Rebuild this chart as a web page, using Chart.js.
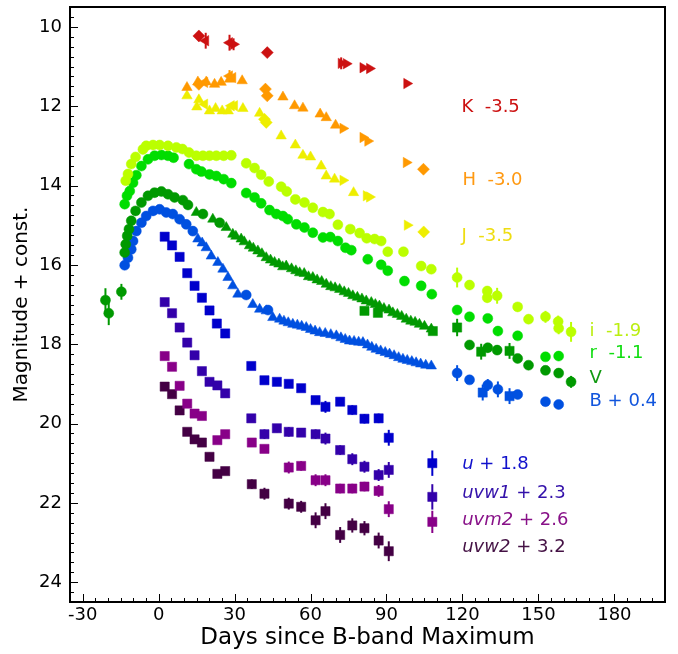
<!DOCTYPE html>
<html>
<head>
<meta charset="utf-8">
<script src="https://cdn.jsdelivr.net/npm/chart.js@4/dist/chart.umd.min.js"></script>
<style>
  html, body { margin: 0; padding: 0; background: #fff; }
  #wrap { width: 678px; height: 654px; }
</style>
</head>
<body>
<div id="wrap"><canvas id="lc"></canvas></div>
<script>
// light curve points: [day since B max, magnitude (+const), error]
const kDiamond = [[15.9, 10.23], [42.9, 10.65]];
const kLeft = [[18.6, 10.35, 0.2], [28.0, 10.40, 0.2]];
const kRight = [[29.6, 10.44, 0.15], [72.1, 10.92, 0.15], [74.1, 10.93], [80.7, 11.03], [83.3, 11.05], [98.0, 11.43]];

const hTri = [[11.2, 11.53], [15.5, 11.39], [18.8, 11.39], [22.1, 11.45], [24.7, 11.40], [28.0, 11.32], [33.0, 11.36],
  [49.1, 11.77], [53.7, 11.99], [57.0, 12.05], [63.8, 12.20], [66.2, 12.29], [69.9, 12.48]];
const hDiamond = [[15.9, 11.45], [42.2, 11.57], [42.9, 11.74], [104.6, 13.59]];
const hLeft = [[18.2, 11.40], [28.0, 11.24, 0.15], [29.3, 11.28]];
const hRight = [[72.8, 12.56], [80.7, 12.79], [82.6, 12.88], [97.8, 13.42]];

const jTri = [[11.2, 11.74], [15.1, 12.02], [15.9, 11.84], [20.1, 12.12], [22.5, 12.06], [25.1, 12.12], [27.5, 12.12],
  [33.3, 12.06], [39.9, 12.18], [48.4, 12.75], [54.0, 12.98], [57.0, 13.24], [60.0, 13.28], [64.2, 13.51],
  [66.2, 13.76], [69.5, 13.84], [77.0, 14.18]];
const jLeft = [[18.2, 11.95], [28.7, 11.99], [30.0, 11.99]];
const jDiamond = [[41.8, 12.33], [42.5, 12.41], [104.7, 15.17]];
const jRight = [[72.8, 13.87], [82.0, 14.26], [83.3, 14.29], [98.2, 15.00]];

const iCirc = [[-13.0, 13.88], [-12.1, 13.71], [-10.8, 13.46], [-9.1, 13.28], [-6.2, 13.09], [-4.9, 13.00], [-2.2, 12.98],
  [0.4, 12.98], [3.7, 13.00], [7.0, 13.04], [9.4, 13.08], [12.0, 13.17], [14.9, 13.25], [17.5, 13.25], [20.1, 13.25],
  [22.8, 13.25], [25.7, 13.25], [28.7, 13.24], [34.6, 13.44], [37.9, 13.56], [40.5, 13.73], [43.5, 13.90],
  [48.4, 14.03], [50.6, 14.15], [54.0, 14.35], [57.6, 14.43], [60.9, 14.56], [64.9, 14.67], [67.5, 14.72],
  [70.8, 14.99], [75.7, 15.10], [79.4, 15.20], [82.2, 15.33], [85.3, 15.35], [87.9, 15.40], [90.5, 15.67],
  [96.7, 15.67], [103.7, 16.03], [107.7, 16.11], [117.9, 16.32, 0.25], [122.8, 16.51, 0.12], [129.8, 16.66, 0.12],
  [129.8, 16.83, 0.12], [133.7, 16.78, 0.2], [141.8, 17.06], [146.1, 17.37, 0.12], [152.8, 17.31, 0.15],
  [157.8, 17.43, 0.15], [158.0, 17.60, 0.15], [162.9, 17.69, 0.25]];

const rCirc = [[-13.4, 14.47], [-12.5, 14.26], [-11.4, 14.14], [-10.1, 13.93], [-8.8, 13.74], [-6.8, 13.51], [-4.2, 13.34],
  [-1.6, 13.25], [1.1, 13.23], [3.7, 13.25], [5.9, 13.30], [12.0, 13.46], [14.9, 13.59], [16.9, 13.65], [20.1, 13.72],
  [22.8, 13.76], [25.7, 13.84], [28.7, 13.94], [34.6, 14.19], [37.9, 14.30], [40.5, 14.45], [43.8, 14.62],
  [46.5, 14.72], [49.1, 14.77], [51.0, 14.85], [54.4, 14.98], [57.6, 15.06], [60.9, 15.19], [64.9, 15.31],
  [67.8, 15.30], [70.8, 15.40], [73.8, 15.57], [76.1, 15.63], [82.6, 15.86], [87.9, 16.00], [90.5, 16.15],
  [97.1, 16.41], [103.7, 16.53], [107.9, 16.74], [117.9, 17.14], [122.8, 17.31], [130.0, 17.35],
  [134.0, 17.67, 0.12], [141.8, 17.79], [152.8, 18.32], [158.0, 18.30, 0.12]];

const vCirc = [[-21.0, 16.89, 0.3], [-19.7, 17.22, 0.3], [-14.7, 16.68, 0.2], [-13.4, 15.69], [-13.0, 15.48],
  [-12.4, 15.27], [-11.7, 15.10], [-10.8, 14.89], [-9.1, 14.64], [-6.8, 14.43], [-4.2, 14.26], [-1.6, 14.18],
  [1.1, 14.15], [3.7, 14.22], [6.3, 14.30], [9.6, 14.37], [11.6, 14.49], [17.5, 14.72], [24.1, 14.94],
  [122.8, 18.02], [130.0, 18.09, 0.12], [133.7, 18.15, 0.12], [141.8, 18.36], [146.1, 18.53], [152.8, 18.66],
  [158.0, 18.73], [162.9, 18.95, 0.15]];
const vTri = [[14.9, 14.68], [21.4, 14.85], [26.7, 15.06], [29.3, 15.23], [30.5, 15.28], [32.6, 15.35], [33.8, 15.42],
  [35.9, 15.52], [37.4, 15.58], [39.2, 15.65], [40.8, 15.72], [42.5, 15.82], [44.2, 15.88], [45.8, 15.94],
  [47.5, 15.98], [49.0, 16.05], [50.4, 16.03], [52.5, 16.10], [54.2, 16.15], [55.7, 16.20], [57.5, 16.22],
  [59.2, 16.30], [60.9, 16.32], [62.6, 16.38], [64.4, 16.42], [66.2, 16.49], [68.0, 16.55], [69.7, 16.58],
  [71.5, 16.62], [73.3, 16.68], [75.0, 16.72], [76.7, 16.78], [78.5, 16.82], [80.3, 16.86], [82.0, 16.91],
  [84.0, 16.95], [85.6, 17.00], [87.2, 17.04], [89.0, 17.10], [91.0, 17.14], [92.5, 17.21], [94.3, 17.25],
  [96.0, 17.30], [97.8, 17.37], [99.6, 17.42], [101.3, 17.45], [103.0, 17.50], [105.0, 17.55], [107.7, 17.62]];
const vSq = [[81.3, 17.16], [86.6, 17.21], [108.3, 17.67], [117.9, 17.58, 0.22], [127.4, 18.19, 0.2], [138.6, 18.17, 0.2]];

const bCirc = [[-13.4, 16.01], [-12.1, 15.82], [-10.8, 15.61], [-10.1, 15.40], [-8.8, 15.15], [-6.8, 14.94],
  [-4.9, 14.77], [-2.2, 14.64], [0.4, 14.60], [3.0, 14.68], [5.6, 14.72], [8.3, 14.85], [10.9, 14.98],
  [13.5, 15.15], [34.6, 16.76], [43.2, 17.14], [117.9, 18.73, 0.2], [122.8, 18.90], [130.0, 19.03, 0.15],
  [134.0, 19.14, 0.2], [141.8, 19.27], [152.8, 19.45], [158.0, 19.52, 0.1]];
const bTri = [[15.5, 15.35], [17.2, 15.45], [18.8, 15.57], [20.8, 15.78], [23.4, 15.94], [25.4, 16.11], [27.4, 16.32],
  [29.3, 16.53], [31.3, 16.74], [37.2, 17.00], [39.9, 17.12], [42.5, 17.16], [45.1, 17.33], [47.8, 17.37],
  [49.5, 17.42], [51.2, 17.46], [53.0, 17.50], [54.8, 17.52], [56.5, 17.55], [58.3, 17.58], [60.0, 17.63],
  [61.8, 17.67], [63.6, 17.71], [65.8, 17.73], [68.0, 17.76], [70.2, 17.79], [72.0, 17.84], [73.7, 17.88],
  [75.4, 17.92], [77.2, 17.93], [79.0, 17.95], [80.7, 17.96], [82.5, 18.02], [84.2, 18.08], [85.9, 18.13],
  [87.7, 18.17], [89.5, 18.21], [91.2, 18.25], [93.0, 18.29], [94.8, 18.34], [96.5, 18.38], [98.2, 18.41],
  [100.0, 18.44], [101.7, 18.47], [103.5, 18.50], [105.5, 18.53], [107.7, 18.55]];
const bSq = [[128.0, 19.22, 0.2], [138.6, 19.31, 0.2]];

const uSq = [[2.4, 15.29], [5.3, 15.51], [8.3, 15.80], [11.3, 16.21], [14.2, 16.53], [17.1, 16.83], [20.1, 17.15],
  [23.0, 17.48], [26.3, 17.73], [36.6, 18.55], [41.8, 18.91, 0.08], [46.7, 18.95, 0.08], [51.4, 19.00, 0.08],
  [56.3, 19.11], [62.0, 19.41, 0.1], [65.9, 19.58, 0.15], [71.7, 19.45, 0.1], [76.5, 19.66, 0.12],
  [81.3, 19.88, 0.12], [86.9, 19.87, 0.12], [90.9, 20.36, 0.2], [108.1, 21.00, 0.32]];
const uvw1Sq = [[2.4, 16.94], [5.3, 17.22], [8.3, 17.58], [11.3, 17.96], [14.2, 18.28], [17.1, 18.68], [20.1, 18.95],
  [23.2, 19.04], [26.3, 19.24], [36.6, 19.87, 0.08], [41.8, 20.27, 0.12], [46.7, 20.12, 0.1], [51.4, 20.21, 0.12],
  [56.3, 20.23, 0.1], [62.0, 20.27, 0.12], [65.9, 20.38, 0.15], [71.7, 20.67, 0.12], [76.5, 20.90, 0.15],
  [81.3, 21.09, 0.15], [86.9, 21.30, 0.15], [90.9, 21.17, 0.2], [108.1, 21.85, 0.32]];
const uvm2Sq = [[2.4, 18.30], [5.3, 18.57], [8.3, 19.05], [11.3, 19.50], [14.2, 19.75], [17.1, 19.81], [23.2, 20.42],
  [26.3, 20.27], [36.8, 20.48], [41.8, 20.64, 0.1], [51.4, 21.11, 0.15], [56.3, 21.07, 0.12], [62.0, 21.43, 0.15],
  [65.9, 21.43, 0.15], [71.7, 21.64, 0.12], [76.5, 21.64, 0.12], [81.3, 21.59, 0.12], [86.9, 21.70, 0.15],
  [90.9, 22.16, 0.2], [108.1, 22.48, 0.28]];
const uvw2Sq = [[2.4, 19.07], [5.3, 19.26], [8.3, 19.67], [11.3, 20.21], [14.2, 20.40], [17.1, 20.48], [20.1, 20.84, 0.1],
  [23.2, 21.27], [26.3, 21.20, 0.08], [36.8, 21.53, 0.12], [41.8, 21.77, 0.15], [51.4, 22.02, 0.15],
  [56.3, 22.10, 0.15], [62.0, 22.44, 0.2], [65.9, 22.21, 0.2], [71.7, 22.81, 0.2], [76.5, 22.57, 0.18],
  [81.3, 22.64, 0.18], [86.9, 22.95, 0.2], [90.9, 23.22, 0.25]];

const xTickVals = [-30, 0, 30, 60, 90, 120, 150, 180];
const yTickVals = [10, 12, 14, 16, 18, 20, 22, 24];

// band labels: [italic part, rest, day, mag, color]
const bandLabels = [
  ['', 'K  -3.5', 119.6, 12.04, '#cc1111'],
  ['', 'H  -3.0', 120.0, 13.86, '#ff9911'],
  ['', 'J  -3.5', 119.6, 15.27, '#eedd11'],
  ['', 'i  -1.9', 170.2, 17.67, '#bbee11'],
  ['', 'r  -1.1', 170.2, 18.24, '#11dd11'],
  ['', 'V', 170.2, 18.86, '#119911'],
  ['', 'B + 0.4', 170.2, 19.43, '#1155dd'],
  ['u', ' + 1.8', 119.9, 21.03, '#1111cc'],
  ['uvw1', ' + 2.3', 119.9, 21.76, '#3311aa'],
  ['uvm2', ' + 2.6', 119.9, 22.43, '#881188'],
  ['uvw2', ' + 3.2', 119.9, 23.13, '#441144']
];

const C = {
  K: '#cc1111', H: '#ff9900', J: '#eeee00', i: '#bbff00', r: '#00dd00',
  V: '#009900', B: '#0050e0', u: '#0000cc', w1: '#3300aa', m2: '#880088', w2: '#440044'
};

function toPts(arr) {
  return arr.map(p => ({ x: p[0], y: p[1], e: p[2] || 0 }));
}

function ds(arr, color, style, rot, r) {
  return {
    data: toPts(arr),
    backgroundColor: color,
    borderColor: color,
    borderWidth: 0.5,
    pointStyle: style,
    rotation: rot || 0,
    pointRadius: r || 6,
    pointHoverRadius: r || 6
  };
}

const datasets = [
  ds(kDiamond, C.K, 'rectRot', 0, 6), ds(kLeft, C.K, 'triangle', -90), ds(kRight, C.K, 'triangle', 90),
  ds(hTri, C.H, 'triangle'), ds(hDiamond, C.H, 'rectRot', 0, 6), ds(hLeft, C.H, 'triangle', -90), ds(hRight, C.H, 'triangle', 90),
  ds(jTri, C.J, 'triangle'), ds(jLeft, C.J, 'triangle', -90), ds(jDiamond, C.J, 'rectRot', 0, 6), ds(jRight, C.J, 'triangle', 90),
  ds(iCirc, C.i, 'circle', 0, 5), ds(rCirc, C.r, 'circle', 0, 5),
  ds(vCirc, C.V, 'circle', 0, 5), ds(vTri, C.V, 'triangle'), ds(vSq, C.V, 'rect', 0, 6.5),
  ds(bCirc, C.B, 'circle', 0, 5), ds(bTri, C.B, 'triangle'), ds(bSq, C.B, 'rect', 0, 6.5),
  ds(uSq, C.u, 'rect', 0, 6.5), ds(uvw1Sq, C.w1, 'rect', 0, 6.5),
  ds(uvm2Sq, C.m2, 'rect', 0, 6.5), ds(uvw2Sq, C.w2, 'rect', 0, 6.5)
];

const FONT = "'DejaVu Sans', sans-serif";

// frame, inward ticks, error bars and band labels
const decor = {
  id: 'decor',
  beforeDatasetsDraw(chart) {
    const ctx = chart.ctx;
    const xs = chart.scales.x, ys = chart.scales.y;
    ctx.save();
    ctx.lineWidth = 2;
    chart.data.datasets.forEach(d => {
      ctx.strokeStyle = d.borderColor;
      d.data.forEach(p => {
        if (!p.e) return;
        const px = xs.getPixelForValue(p.x);
        ctx.beginPath();
        ctx.moveTo(px, ys.getPixelForValue(p.y - p.e));
        ctx.lineTo(px, ys.getPixelForValue(p.y + p.e));
        ctx.stroke();
      });
    });
    ctx.restore();
  },
  afterDraw(chart) {
    const ctx = chart.ctx;
    const a = chart.chartArea;
    const xs = chart.scales.x, ys = chart.scales.y;
    ctx.save();
    ctx.strokeStyle = '#000';
    ctx.lineWidth = 1;
    ctx.beginPath();
    for (let v = -35; v <= 200; v += 5) {
      const px = Math.round(xs.getPixelForValue(v)) + 0.5;
      const len = xTickVals.includes(v) ? 8 : 4;
      ctx.moveTo(px, a.bottom);
      ctx.lineTo(px, a.bottom - len);
    }
    for (let k = 0; k <= 60; k++) {
      const v = 9.5 + k * 0.25;
      const py = Math.round(ys.getPixelForValue(v)) + 0.5;
      const len = yTickVals.includes(v) ? 8 : 4;
      ctx.moveTo(a.left, py);
      ctx.lineTo(a.left + len, py);
    }
    ctx.stroke();
    ctx.lineWidth = 2;
    ctx.strokeRect(a.left, a.top, a.right - a.left, a.bottom - a.top);

    ctx.textBaseline = 'middle';
    ctx.textAlign = 'left';
    bandLabels.forEach(l => {
      let px = xs.getPixelForValue(l[2]);
      const py = ys.getPixelForValue(l[3]);
      ctx.fillStyle = l[4];
      if (l[0]) {
        ctx.font = 'italic 18px ' + FONT;
        ctx.fillText(l[0], px, py);
        px += ctx.measureText(l[0]).width;
      }
      ctx.font = '18px ' + FONT;
      ctx.fillText(l[1], px, py);
    });
    ctx.restore();
  }
};

new Chart(document.getElementById('lc'), {
  type: 'scatter',
  data: { datasets: datasets },
  plugins: [decor],
  options: {
    responsive: true,
    maintainAspectRatio: false,
    animation: false,
    layout: { padding: { top: 6, right: 13, left: 0, bottom: 0 } },
    plugins: { legend: { display: false }, tooltip: { enabled: false } },
    scales: {
      x: {
        type: 'linear',
        min: -35,
        max: 200,
        grid: { display: false, drawTicks: false },
        border: { display: false },
        afterBuildTicks: s => { s.ticks = xTickVals.map(v => ({ value: v })); },
        afterFit: s => { s.height = 52; s.paddingLeft = 0; s.paddingRight = 0; },
        ticks: { color: '#000', font: { family: FONT, size: 18 }, padding: 3, maxRotation: 0 },
        title: { display: true, text: 'Days since B-band Maximum', color: '#000',
                 font: { family: FONT, size: 23 }, padding: { top: 0, bottom: 2 } }
      },
      y: {
        type: 'linear',
        reverse: true,
        min: 9.5,
        max: 24.5,
        grid: { display: false, drawTicks: false },
        border: { display: false },
        afterBuildTicks: s => { s.ticks = yTickVals.map(v => ({ value: v })); },
        afterFit: s => { s.width = 70; s.paddingTop = 0; s.paddingBottom = 0; },
        ticks: { color: '#000', font: { family: FONT, size: 18 }, padding: 8 },
        title: { display: true, text: 'Magnitude + const.', color: '#000',
                 font: { family: FONT, size: 20 }, padding: { top: 10, bottom: 0 } }
      }
    }
  }
});
</script>
</body>
</html>
